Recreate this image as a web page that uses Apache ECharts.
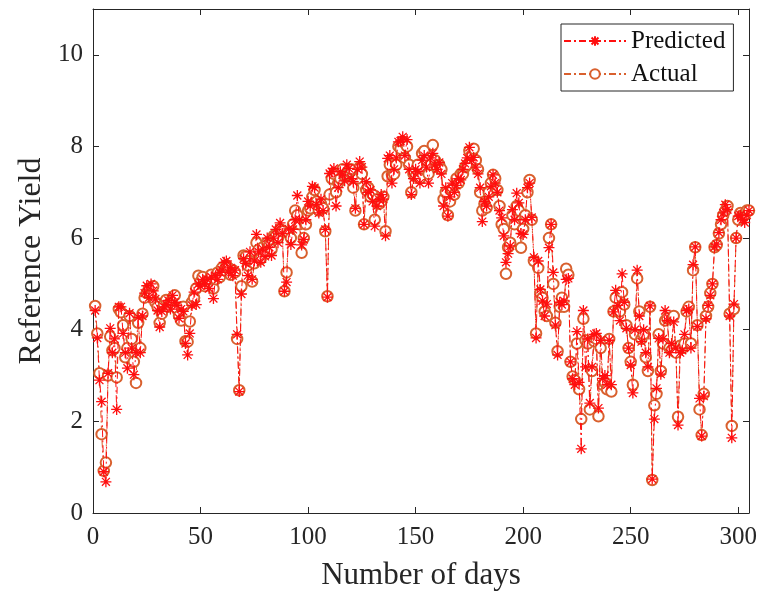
<!DOCTYPE html>
<html>
<head>
<meta charset="utf-8">
<script src="https://cdn.jsdelivr.net/npm/echarts@6/dist/echarts.min.js"></script>
<style>
html,body{margin:0;padding:0;background:#fff;}
#chart{width:761px;height:596px;}
</style>
</head>
<body>
<div id="chart"></div>
<script>
// Predicted values, days 1..305
var predicted = [
4.42,3.82,2.9,2.43,0.9,0.68,3.05,4.03,3.5,3.8,2.26,4.5,4.5,3.92,3.5,3.16,4.36,3.6,3.02,3.5,4.27,3.5,4.3,4.8,4.96,
4.7,5.0,4.85,4.67,4.42,4.06,4.4,4.5,4.55,4.64,4.45,4.75,4.6,4.53,4.25,4.45,4.4,3.7,3.45,3.92,4.53,4.82,4.55,5.0,4.95,
5.1,5.0,5.1,4.9,5.15,4.68,5.18,5.1,5.25,5.3,5.47,5.5,5.25,5.35,5.18,5.3,3.9,2.65,4.78,5.55,5.45,5.18,5.7,5.1,5.5,
6.08,5.7,5.47,5.76,5.6,6.0,5.8,5.62,6.0,6.19,5.9,6.33,6.1,4.84,5.04,6.2,5.86,6.19,6.4,6.93,6.4,5.85,5.97,6.4,6.8,
6.7,7.13,7.1,6.73,6.55,6.85,6.6,6.19,4.71,7.41,7.45,7.52,6.7,7.1,7.45,7.38,7.25,7.6,7.52,7.3,7.23,6.65,7.5,7.67,7.55,
6.3,7.23,7.0,7.05,6.8,6.26,6.7,6.84,6.95,6.85,6.05,7.74,7.8,7.2,7.5,7.75,8.1,8.12,8.21,7.8,8.15,7.5,6.95,7.3,7.5,
7.45,7.2,7.7,7.8,7.55,7.2,7.75,7.85,7.6,7.5,7.65,7.4,6.7,7.1,6.48,6.9,7.2,7.0,7.15,7.3,7.27,7.5,7.63,7.75,7.98,
7.7,7.76,7.55,7.4,7.1,6.36,6.8,6.7,6.9,7.13,7.38,7.2,7.0,6.6,6.44,6.05,5.47,5.66,5.83,6.62,6.4,6.98,6.77,6.1,6.08,
6.4,7.1,7.2,6.45,5.58,3.82,5.5,4.88,4.63,4.3,4.56,5.79,6.3,5.25,4.1,3.45,4.6,4.55,4.63,5.1,5.12,3.3,2.93,2.8,3.96,
2.85,1.4,4.42,3.19,3.8,2.4,3.19,3.9,3.92,2.29,3.77,2.94,3.0,2.8,3.77,2.8,4.39,4.86,4.53,4.2,5.22,4.6,4.03,3.6,3.23,
2.62,4.0,5.3,4.3,3.74,4.0,3.5,3.19,4.52,0.74,2.05,2.72,3.81,3.03,3.8,4.42,4.2,3.5,3.7,4.17,3.6,1.92,3.5,3.55,3.9,
4.42,4.45,3.6,5.42,5.81,4.07,2.5,1.68,2.55,4.24,4.53,4.75,5.0,5.81,5.87,6.12,6.4,6.55,6.73,6.62,4.3,1.64,4.56,6.0,6.48,
6.5,6.4,6.34,6.5,6.6
];
// Actual values, days 1..305
var actual = [
4.52,3.92,3.05,1.72,0.92,1.1,3.0,3.85,3.55,3.6,2.96,4.45,4.38,4.1,3.4,3.6,4.3,3.8,3.3,2.84,4.15,3.6,4.35,4.7,4.8,
4.9,4.75,4.95,4.6,4.5,4.15,4.35,4.55,4.65,4.5,4.6,4.7,4.75,4.45,4.3,4.2,4.5,3.75,3.74,4.18,4.6,4.7,4.9,5.18,5.05,
5.15,4.95,5.05,5.1,5.2,4.9,5.1,5.25,5.15,5.35,5.3,5.4,5.35,5.2,5.3,5.25,3.8,2.68,4.95,5.62,5.6,5.4,5.5,5.05,5.45,
5.9,5.75,5.55,5.8,5.7,5.9,5.85,5.75,6.05,6.05,6.0,6.2,6.15,4.84,5.25,6.1,6.0,6.3,6.6,6.5,6.3,5.68,6.0,6.3,6.6,
6.65,6.9,7.05,6.8,6.6,6.75,6.65,6.15,4.73,6.95,7.3,7.4,7.0,7.2,7.3,7.5,7.35,7.4,7.45,7.5,7.1,6.6,7.3,7.55,7.4,
6.3,7.05,7.1,6.9,6.95,6.4,6.85,6.75,6.8,6.9,6.15,7.35,7.6,7.38,7.4,7.6,8.0,7.95,8.1,7.75,8.0,7.6,7.0,7.4,7.35,
7.6,7.3,7.85,7.9,7.7,7.4,7.6,8.03,7.7,7.55,7.6,7.5,6.85,7.0,6.5,6.8,7.05,6.95,7.3,7.2,7.4,7.4,7.55,7.6,7.9,
7.8,7.95,7.7,7.5,7.0,6.6,6.75,6.66,7.0,7.2,7.38,7.3,7.05,6.7,6.3,6.2,5.22,5.8,5.9,6.5,6.3,6.7,6.6,5.79,6.2,
6.5,7.0,7.27,6.4,5.5,3.92,5.35,4.8,4.7,4.4,4.3,6.0,6.3,5.0,4.15,3.53,4.5,4.7,4.5,5.33,5.2,3.3,2.98,2.9,3.7,
2.7,2.05,4.24,3.77,3.7,2.26,3.1,3.75,3.8,2.11,3.6,2.8,2.85,2.7,3.8,2.65,4.4,4.7,4.4,4.4,4.82,4.55,4.1,3.6,3.3,
2.8,3.9,5.12,4.4,3.8,3.9,3.4,3.1,4.5,0.72,2.35,2.6,3.9,3.1,3.7,4.2,4.25,3.6,3.55,4.3,3.5,2.1,3.65,3.6,3.7,
4.4,4.5,3.7,5.3,5.8,4.1,2.26,1.7,2.6,4.3,4.5,4.8,5.0,5.8,5.85,6.1,6.3,6.5,6.6,6.7,4.35,1.9,4.45,6.0,6.4,
6.55,6.5,6.5,6.6,6.6
];
var xTicks = [0, 50, 100, 150, 200, 250, 300];
var yTicks = [0, 2, 4, 6, 8, 10];

var predPts = predicted.map(function (v, i) { return [i + 1, v]; });
var actPts = actual.map(function (v, i) { return [i + 1, v]; });

var FONT = 'Liberation Serif';
var AX = '#262626';
var RED = '#ff0f0f';
var ORANGE = '#d9602e';
var star = 'path://M-1,0L1,0M0,-1L0,1M-0.72,-0.72L0.72,0.72M-0.72,0.72L0.72,-0.72';

var chart = echarts.init(document.getElementById('chart'), null, {renderer: 'canvas'});
var axisCommon = {
  type: 'value',
  axisLine: {show: true, onZero: false, lineStyle: {color: AX, width: 1}},
  axisTick: {show: true, inside: true, length: 6, lineStyle: {color: AX}},
  splitLine: {show: false}
};
chart.setOption({
  backgroundColor: '#fff',
  animation: false,
  grid: {left: 93, right: 12, top: 9, bottom: 80, containLabel: false},
  legend: {
    data: ['Predicted', 'Actual'],
    orient: 'vertical',
    left: 561, top: 24,
    itemWidth: 62, itemHeight: 12, itemGap: 5,
    padding: [3, 8, 3, 2],
    borderColor: AX, borderWidth: 1, backgroundColor: '#fff',
    textStyle: {fontFamily: FONT, fontSize: 25, color: '#111', lineHeight: 28}
  },
  xAxis: [
    Object.assign({}, axisCommon, {
      min: 0, max: 305, interval: 50, position: 'bottom',
      name: 'Number of days', nameLocation: 'middle', nameGap: 47,
      nameTextStyle: {fontFamily: FONT, fontSize: 31, color: AX},
      axisLabel: {fontFamily: FONT, fontSize: 25, color: AX, margin: 12,
        formatter: function (v) { return xTicks.indexOf(v) >= 0 ? String(v) : ''; }}
    }),
    Object.assign({}, axisCommon, {
      min: 0, max: 305, interval: 50, position: 'top', axisLabel: {show: false}
    })
  ],
  yAxis: [
    Object.assign({}, axisCommon, {
      min: 0, max: 11, interval: 2, position: 'left',
      name: 'Reference Yield', nameLocation: 'middle', nameGap: 37,
      nameTextStyle: {fontFamily: FONT, fontSize: 32, color: AX},
      axisLabel: {fontFamily: FONT, fontSize: 25, color: AX, margin: 10,
        formatter: function (v) { return yTicks.indexOf(v) >= 0 ? String(v) : ''; }}
    }),
    Object.assign({}, axisCommon, {
      min: 0, max: 11, interval: 2, position: 'right', axisLabel: {show: false}
    })
  ],
  series: [
    {
      name: 'Actual', type: 'line', data: actPts, xAxisIndex: 0, yAxisIndex: 0,
      symbol: 'emptyCircle', symbolSize: 10.5, showAllSymbol: true,
      lineStyle: {color: ORANGE, width: 1, type: [7, 3, 2, 3]},
      itemStyle: {color: ORANGE, borderColor: ORANGE, borderWidth: 1},
      emphasis: {disabled: true}, z: 2
    },
    {
      name: 'Predicted', type: 'line', data: predPts, xAxisIndex: 0, yAxisIndex: 0,
      symbol: star, symbolSize: 11, showAllSymbol: true,
      lineStyle: {color: RED, width: 1, type: [7, 3, 2, 3]},
      itemStyle: {color: 'none', borderColor: RED, borderWidth: 1.3},
      emphasis: {disabled: true}, z: 3
    }
  ]
});
</script>
</body>
</html>
